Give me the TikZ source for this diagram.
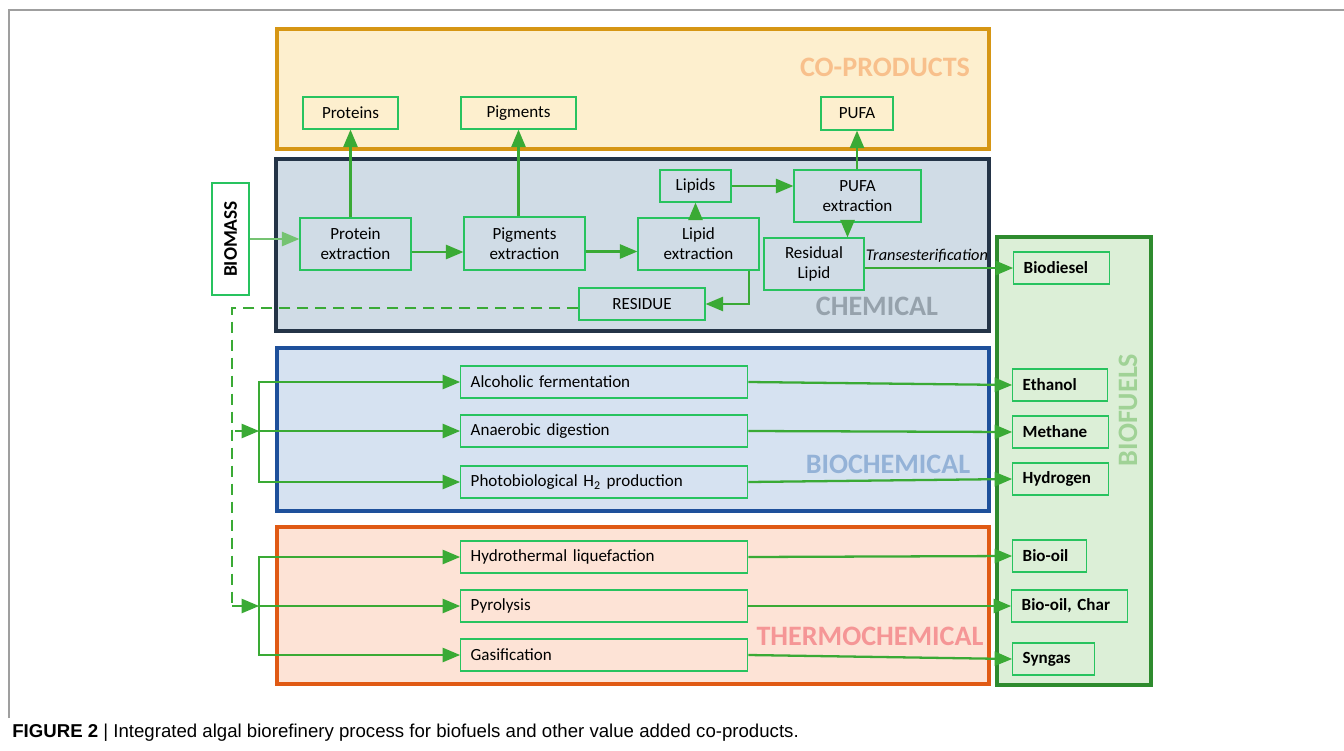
\documentclass[tikz,border=0pt]{standalone}
\usepackage{fontspec}
\setmainfont{Carlito}
\newfontfamily\capfont{Liberation Sans}
\usetikzlibrary{arrows, positioning}

\definecolor{linegreen}{RGB}{58,170,53}
\definecolor{boxgreen}{RGB}{40,195,95}
\definecolor{cofill}{RGB}{253,239,206}
\definecolor{codraw}{RGB}{214,150,20}
\definecolor{cotag}{RGB}{248,192,140}
\definecolor{chfill}{RGB}{208,220,230}
\definecolor{chdraw}{RGB}{36,52,71}
\definecolor{chtag}{RGB}{150,162,172}
\definecolor{bifill}{RGB}{214,226,241}
\definecolor{bidraw}{RGB}{30,80,155}
\definecolor{bitag}{RGB}{148,178,215}
\definecolor{thfill}{RGB}{253,227,214}
\definecolor{thdraw}{RGB}{224,90,20}
\definecolor{thtag}{RGB}{245,150,150}
\definecolor{fufill}{RGB}{220,239,215}
\definecolor{fudraw}{RGB}{46,139,46}
\definecolor{futag}{RGB}{160,210,150}

\begin{document}
\begin{tikzpicture}[x=0.02cm, y=-0.02cm, >=triangle 45,
    proc/.style={draw=boxgreen, line width=0.8pt, align=center, inner sep=0pt,
      text=black, font=\fontsize{9.7}{11.5}\selectfont},
    route/.style={proc, align=left, inner xsep=0.2cm, text width=5.34cm,
      minimum height=0.64cm, anchor=west},
    fuel/.style={proc, align=left, inner xsep=0.2cm, minimum height=0.64cm,
      anchor=west, font=\fontsize{9.7}{11.5}\selectfont\bfseries},
    flow/.style={color=linegreen, line width=1.3pt},
    region/.style={line width=2pt},
    tag/.style={font=\fontsize{16}{16}\selectfont\bfseries}]
  \useasboundingbox (0,0) rectangle (1344,750);

  % frame of the figure
  \draw[gray!75, line width=0.8pt] (9,718) -- (9,10) -- (1344,10);

  % regions
  \draw[region, draw=codraw, fill=cofill] (277,29) rectangle (989,149);
  \draw[region, draw=chdraw, fill=chfill] (276,159) rectangle (989,331);
  \draw[region, draw=bidraw, fill=bifill] (277,348) rectangle (989,511);
  \draw[region, draw=thdraw, fill=thfill] (277,527) rectangle (989,684);
  \draw[region, draw=fudraw, fill=fufill] (997,237) rectangle (1151,685);

  \node[tag, text=cotag] (cotag) at (885,67) {CO-PRODUCTS};
  \node[tag, text=chtag] (chtag) at (877,306) {CHEMICAL};
  \node[tag, text=bitag] (bitag) at (888,464) {BIOCHEMICAL};
  \node[tag, text=thtag] (thtag) at (870,636) {THERMOCHEMICAL};
  \node[tag, text=futag, rotate=90] (futag) at (1128,410) {BIOFUELS};

  % co-products
  \node[proc, minimum width=1.9cm, minimum height=0.64cm] (prots) at (350.5,113) {Proteins};
  \node[proc, minimum width=2.3cm, minimum height=0.64cm] (pigs) at (518.5,113) {Pigments};
  \node[proc, minimum width=1.44cm, minimum height=0.66cm] (pufa) at (857,113.5) {PUFA};

  % chemical route
  \node[proc, minimum width=0.74cm, minimum height=2.24cm] (biomass) at (230.5,239)
    {\rotatebox{90}{\fontsize{11}{11}\selectfont\bfseries BIOMASS}};
  \node[proc, minimum width=2.22cm, minimum height=1.04cm] (protx) at (355.5,244) {Protein\\extraction};
  \node[proc, minimum width=2.42cm, minimum height=1.06cm] (pigx) at (524.5,243.5) {Pigments\\extraction};
  \node[proc, minimum width=2.42cm, minimum height=1.04cm] (lipx) at (698.5,244) {Lipid\\extraction};
  \node[proc, minimum width=1.42cm, minimum height=0.64cm] (lipids) at (695.5,186) {Lipids};
  \node[proc, minimum width=2.54cm, minimum height=1.04cm] (pufax) at (857.5,196) {PUFA\\extraction};
  \node[proc, minimum width=2cm, minimum height=1.04cm] (resl) at (814,264) {Residual\\Lipid};
  \node[proc, minimum width=2.52cm, minimum height=0.64cm] (resid) at (642,304) {RESIDUE};

  % biochemical and thermochemical routes
  \node[route] (alc) at (460,382) {Alcoholic fermentation};
  \node[route] (anae) at (460,431) {Anaerobic digestion};
  \node[route] (photo) at (460,482) {Photobiological H\textsubscript{2} production};
  \node[route] (hydro) at (460,557) {Hydrothermal liquefaction};
  \node[route] (pyro) at (460,606) {Pyrolysis};
  \node[route] (gasif) at (460,655) {Gasification};

  % biofuels
  \node[fuel, text width=1.52cm] (biod) at (1013,268) {Biodiesel};
  \node[fuel, text width=1.5cm] (eth) at (1012,385) {Ethanol};
  \node[fuel, text width=1.52cm] (meth) at (1012,432) {Methane};
  \node[fuel, text width=1.52cm] (hyd) at (1012,479) {Hydrogen};
  \node[fuel, text width=1.08cm] (oil) at (1012,556) {Bio-oil};
  \node[fuel, text width=1.92cm] (char) at (1011,606) {Bio-oil, Char};
  \node[fuel, text width=1.24cm] (syng) at (1012,659) {Syngas};

  \coordinate (bsplit) at (259,431);
  \coordinate (tsplit) at (259,606);
  \coordinate (dturn) at (232,606);

  \path[flow, ->]
    (biomass.east) edge[color=linegreen!70] (biomass.east -| protx.west)
    ([yshift=-0.16cm]protx.east) edge ([yshift=-0.16cm]protx.east -| pigx.west)
    ([yshift=-0.16cm]pigx.east) edge ([yshift=-0.16cm]pigx.east -| lipx.west)
    (prots.south |- protx.north) edge (prots.south)
    (pigs.south |- pigx.north) edge (pigs.south)
    (lipids.south |- lipx.north) edge (lipids.south)
    (lipids.east) edge (lipids.east -| pufax.west)
    (pufa.south |- pufax.north) edge (pufa.south)
    ([xshift=-0.2cm]pufax.south) edge ([xshift=-0.2cm]pufax.south |- resl.north)
    (resl.east |- biod.west) edge node[above=-1pt, pos=0.42, text=black,
      font=\fontsize{9.3}{11}\selectfont\itshape] {Transesterification} (biod.west)
    ([xshift=-0.22cm]lipx.south east) edge[to path={|- (\tikztotarget)}] (resid.east);

  % residue to the other routes
  \draw[flow, line width=1.6pt, dash pattern=on 0.22cm off 0.14cm] ([yshift=-0.08cm]resid.west) -| (dturn);
  \path[flow, ->]
    ([xshift=0.06cm]bsplit -| dturn) edge (bsplit)
    (dturn) edge (tsplit)
    (bsplit) edge[to path={|- (\tikztotarget)}] (alc.west)
    (bsplit) edge (anae.west)
    (bsplit) edge[to path={|- (\tikztotarget)}] (photo.west)
    (tsplit) edge[to path={|- (\tikztotarget)}] (hydro.west)
    (tsplit) edge (pyro.west)
    (tsplit) edge[to path={|- (\tikztotarget)}] (gasif.west)
    (alc.east) edge (eth.west)
    (anae.east) edge (meth.west)
    (photo.east) edge (hyd.west)
    (hydro.east) edge (oil.west)
    (pyro.east) edge (char.west)
    (gasif.east) edge (syng.west);

  % caption
  \node[anchor=west, inner sep=0pt, font=\capfont\fontsize{10.6}{12}\selectfont] (caption) at (12,733)
    {\textbf{FIGURE 2} | Integrated algal biorefinery process for biofuels and other value added co-products.};
\end{tikzpicture}
\end{document}
